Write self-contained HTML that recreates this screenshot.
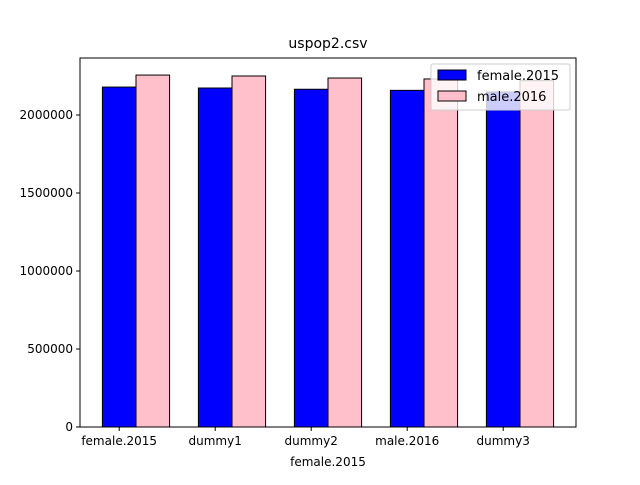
<!DOCTYPE html>
<html><head><meta charset="utf-8"><style>
body{margin:0;background:#fff;font-family:"Liberation Sans","DejaVu Sans",sans-serif}
text{font-family:"DejaVu Sans","Liberation Sans",sans-serif}
</style></head><body>
<svg id="c" width="640" height="480" viewBox="0 0 640 480">
<rect width="640" height="480" fill="#fff"/>
<text x="328" y="48" font-size="14" text-anchor="middle">uspop2.csv</text>
<g id="bars"></g>
<g id="axes"></g>
<rect x="80" y="58" width="496" height="369" fill="none" stroke="#000" stroke-width="1"/>
<text x="328" y="466" font-size="12" text-anchor="middle">female.2015</text>
<g>
<rect x="431" y="64" width="139" height="46" fill="#fff" fill-opacity="0.8" stroke="#ccc" rx="2"/>
<rect x="438" y="70" width="28" height="10" fill="#0000ff" stroke="#000"/>
<text x="477" y="80" font-size="13">female.2015</text>
<rect x="438" y="91" width="28" height="10" fill="#ffc0cb" stroke="#000"/>
<text x="477" y="101" font-size="13">male.2016</text>
</g>
</svg>
<script>
const categories=["female.2015","dummy1","dummy2","male.2016","dummy3"];
const female2015=[2179000,2173000,2165000,2158000,2148000];
const male2016=[2256000,2250000,2237000,2231000,2220000];
const yTicks=[0,500000,1000000,1500000,2000000];
const NS="http://www.w3.org/2000/svg";
const x=i=>80+(i+0.5833)*96;
const y=v=>427-v*156/1e6;
const bars=document.getElementById('bars'),axes=document.getElementById('axes');
function mk(tag,attrs,parent){const e=document.createElementNS(NS,tag);for(const k in attrs)e.setAttribute(k,attrs[k]);parent.appendChild(e);return e;}
const bw=0.35*96;
categories.forEach((c,i)=>{
  let r=mk('rect',{x:x(i)-bw,y:y(female2015[i]),width:bw,height:427-y(female2015[i]),fill:'#0000ff',stroke:'#000'},bars);
  
  
  let p=mk('rect',{x:x(i),y:y(male2016[i]),width:bw,height:427-y(male2016[i]),fill:'#ffc0cb',stroke:'#000'},bars);
  
  
  const tx=x(i)-bw/2;
  mk('line',{x1:tx,x2:tx,y1:427,y2:431,stroke:'#000'},axes);
  let t=mk('text',{x:Math.max(tx,75+c.length*3.5),y:445,'font-size':12,'text-anchor':'middle'},axes);
  t.textContent=c;
  
  
});
yTicks.forEach(v=>{
  mk('line',{x1:76,x2:80,y1:y(v),y2:y(v),stroke:'#000'},axes);
  let t=mk('text',{x:73,y:y(v)+4,'font-size':12,'text-anchor':'end'},axes);
  t.textContent=v;
  
  
});
</script>
</body></html>
